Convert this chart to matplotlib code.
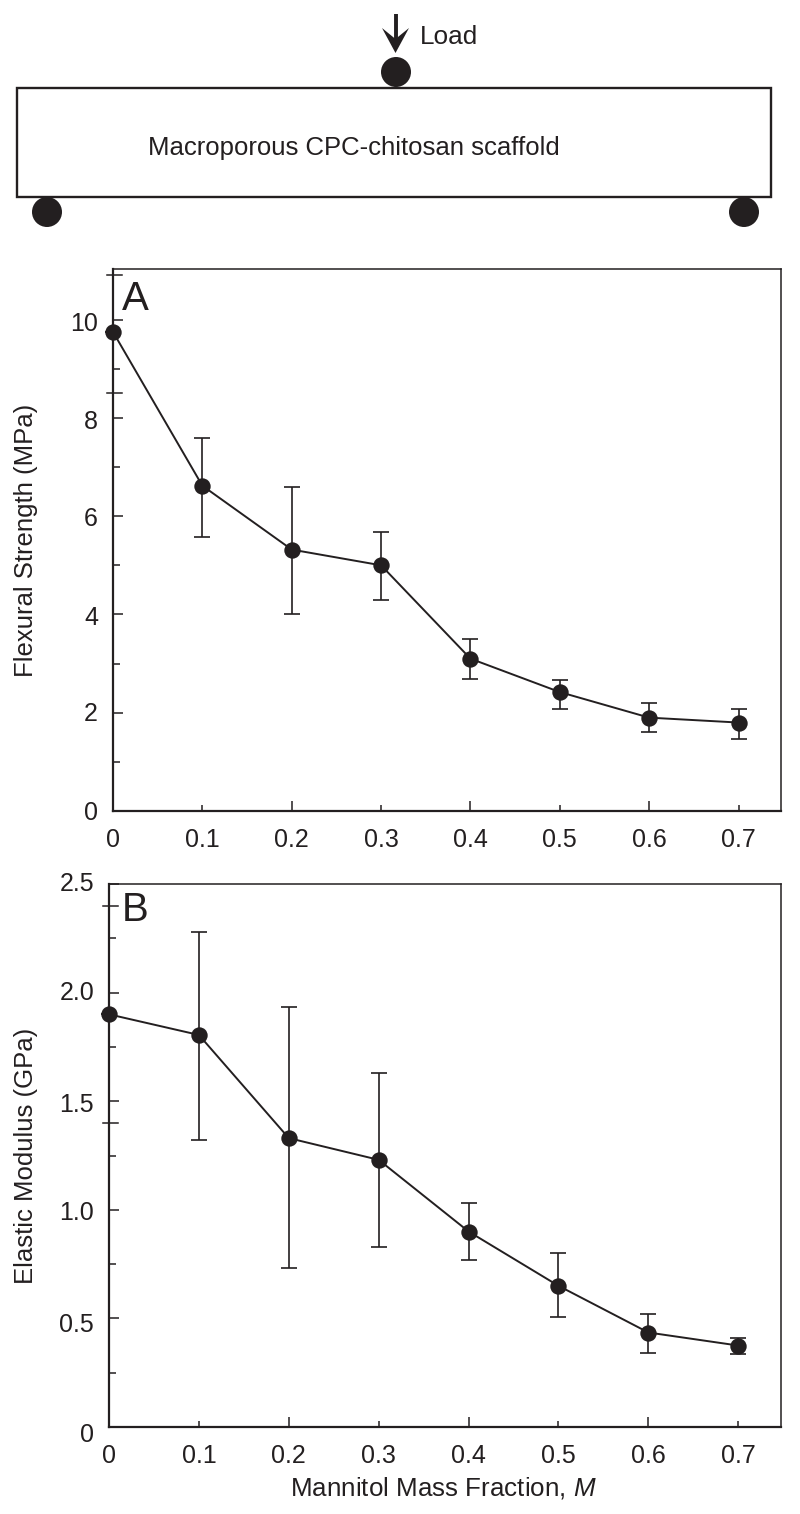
import matplotlib
matplotlib.use("Agg")
import matplotlib.pyplot as plt
from matplotlib.patches import Rectangle, Circle, Polygon

plt.rcParams['font.family'] = ['Liberation Sans', 'DejaVu Sans']
plt.rcParams['mathtext.fontset'] = 'custom'
plt.rcParams['mathtext.it'] = 'Liberation Sans:italic'
plt.rcParams['mathtext.rm'] = 'Liberation Sans'

INK = '#231f20'
W, H = 800, 1514

mannitol = [0, 0.1, 0.2, 0.3, 0.4, 0.5, 0.6, 0.7]
x_labels = ['0', '0.1', '0.2', '0.3', '0.4', '0.5', '0.6', '0.7']

strength = [9.75, 6.62, 5.32, 5.0, 3.1, 2.42, 1.9, 1.8]
strength_hi = [9.75, 7.6, 6.6, 5.68, 3.5, 2.67, 2.2, 2.07]
strength_lo = [9.75, 5.58, 4.0, 4.3, 2.68, 2.07, 1.6, 1.47]
strength_major = [0, 2, 4, 6, 8, 10]
strength_labels = ['0', '2', '4', '6', '8', '10']
strength_minor = [1, 3, 5, 7, 9]
strength_cross = [8.5, 10.9]

modulus = [1.9, 1.805, 1.33, 1.23, 0.9, 0.65, 0.435, 0.375]
modulus_hi = [1.9, 2.28, 1.935, 1.63, 1.03, 0.8, 0.52, 0.41]
modulus_lo = [1.9, 1.32, 0.73, 0.83, 0.77, 0.505, 0.34, 0.335]
modulus_major = [0, 0.5, 1.0, 1.5, 2.0, 2.5]
modulus_labels = ['0', '0.5', '1.0', '1.5', '2.0', '2.5']
modulus_minor = [0.25, 0.75, 1.25, 1.75, 2.25]
modulus_cross = [1.4, 2.4]

fig = plt.figure(figsize=(W / 100, H / 100), dpi=100, facecolor='white')


def box(l, t, r, b):
    return [l / W, 1 - b / H, (r - l) / W, (b - t) / H]


# schematic drawn in a pixel-coordinate overlay
sk = fig.add_axes([0, 0, 1, 1], zorder=0)
sk.set_xlim(0, W)
sk.set_ylim(H, 0)
sk.axis('off')
sk.add_patch(Rectangle((17, 88), 754, 109, fc='white', ec=INK, lw=1.7))
for cx, cy in [(396, 72), (47, 212), (744, 212)]:
    sk.add_patch(Circle((cx, cy), 15, fc=INK, ec='none', zorder=3))
sk.plot([395.5, 395.5], [14, 42], color=INK, lw=2.8, solid_capstyle='butt')
sk.add_patch(Polygon([(395.5, 53), (382, 28), (395.5, 39), (409, 28)], closed=True,
                     fc=INK, ec='none', zorder=3))
sk.text(420, 37.5, 'Load', fontsize=18.8, color=INK, va='center', ha='left')
sk.text(148, 148, 'Macroporous CPC-chitosan scaffold', fontsize=18.55, color=INK,
        va='center', ha='left')


def panel(rect, ylim, y, hi, lo, major, major_lab, lab_shift, minor, cross, letter, ylabel,
          letter_x, letter_y):
    ax = fig.add_axes(box(*rect), zorder=1)
    ax.set_xlim(0, 0.7475)
    ax.set_ylim(0, ylim)
    ax.patch.set_alpha(0)
    yerr = [[a - b for a, b in zip(y, lo)], [b - a for a, b in zip(y, hi)]]
    ax.errorbar(mannitol, y, yerr=yerr, fmt='none', ecolor=INK, elinewidth=1.2,
                capsize=6, capthick=1.2, zorder=3, clip_on=False)
    ax.plot(mannitol, y, '-', color=INK, lw=1.4, zorder=4, clip_on=False)
    ax.plot(mannitol, y, 'o', color=INK, ms=11.8, mew=0, zorder=5, clip_on=False)
    for s in ax.spines.values():
        s.set_color(INK)
        s.set_linewidth(1.1)
    ax.spines['left'].set_linewidth(1.6)
    ax.spines['bottom'].set_linewidth(1.6)
    ax.set_xticks(mannitol)
    ax.set_xticklabels(x_labels, fontsize=18, color=INK)
    ax.tick_params(axis='x', direction='in', length=4.5, width=1.1, pad=12.3, color=INK)
    for i, t in enumerate(ax.xaxis.get_major_ticks()):
        if i % 2 == 0 and i > 0:
            t.tick1line.set_markersize(7)
    ax.set_yticks(major)
    ax.set_yticklabels([])
    ax.tick_params(axis='y', which='major', direction='in', length=7.2, width=1.1, color=INK)
    ax.set_yticks(minor, minor=True)
    ax.tick_params(axis='y', which='minor', direction='in', length=5, width=1.1, color=INK)
    for v, lab, dy in zip(major, major_lab, lab_shift):
        ax.annotate(lab, (0, v), xycoords=ax.get_yaxis_transform(),
                    xytext=(-15, -dy - 1.5), textcoords='offset pixels',
                    ha='right', va='center', fontsize=18, color=INK, annotation_clip=False)
    span = rect[2] - rect[0]
    for v in cross:
        ax.plot([-6 / span, 9 / span], [v, v], transform=ax.get_yaxis_transform(),
                color=INK, lw=1.1, clip_on=False, zorder=2)
    sk.text(letter_x, letter_y, letter, fontsize=29, color=INK, va='center', ha='left', zorder=5)
    fig.text(26 / W, 1 - (rect[1] + rect[3]) / 2 / H, ylabel, rotation=90, fontsize=18.5,
             color=INK, va='center', ha='center')
    return ax


panel((113, 269, 781, 811), 11.03, strength, strength_hi, strength_lo,
      strength_major, strength_labels, [0, 0, 2, 1, 2.5, 3], strength_minor, strength_cross,
      'A', 'Flexural Strength (MPa)', 122, 299)
panel((109, 884, 781, 1427), 2.5, modulus, modulus_hi, modulus_lo,
      modulus_major, modulus_labels, [6, 5, 2, 2, -1, -2], modulus_minor, modulus_cross,
      'B', 'Elastic Modulus (GPa)', 122, 910)
fig.text(443.5 / W, 1 - 1488 / H, 'Mannitol Mass Fraction, $\\mathit{M}$', fontsize=18.7,
         color=INK, va='center', ha='center')

fig.savefig('out.png', dpi=100, facecolor='white')
